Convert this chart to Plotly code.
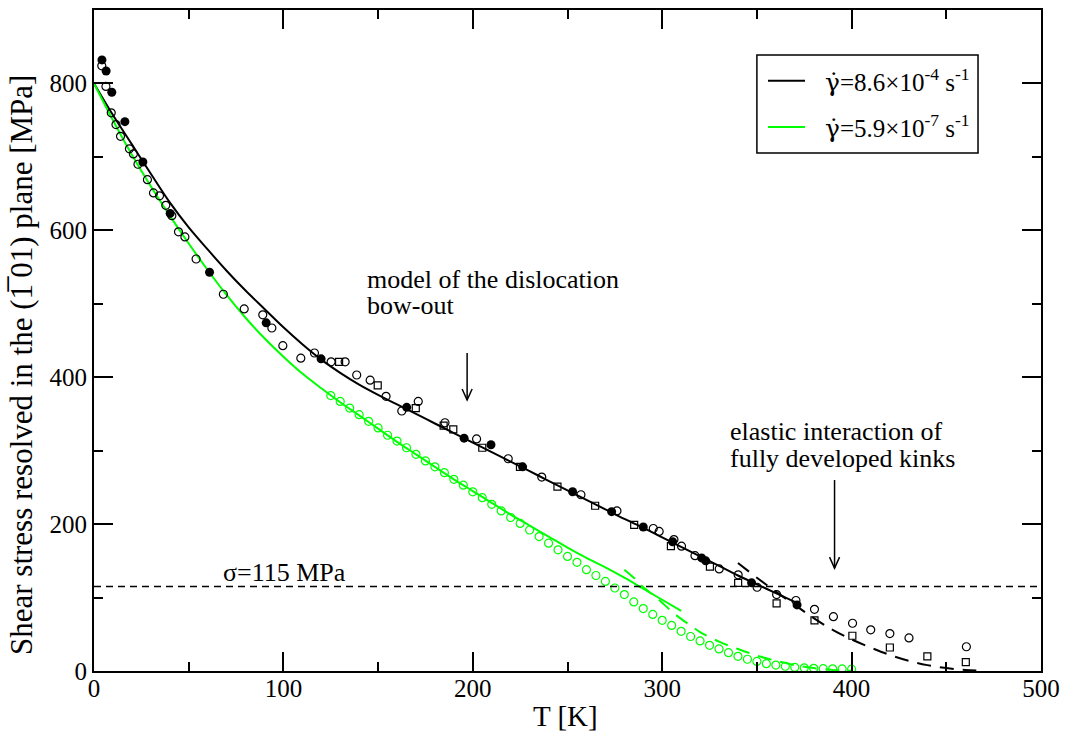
import plotly.graph_objects as go

FONT = "Liberation Serif"

# Model curves: dislocation bow-out (solid) for the two strain rates
T_fast = [0, 10, 20, 30, 40, 50, 60, 70, 80, 90, 100, 110, 120, 130, 140, 150, 160, 170, 180,
          190, 200, 210, 220, 230, 240, 250, 260, 270, 280, 290, 300, 310, 320, 330, 340, 350,
          360, 370]
tau_fast = [800, 757, 717, 677, 638, 604, 574, 545, 518, 493, 468, 445, 424, 406, 390, 376, 363,
            350, 337, 324, 311, 298, 285, 272, 259, 246, 233, 220, 207, 195, 182, 169, 156, 143,
            130, 118, 106, 94]

T_slow = [0, 10, 20, 30, 40, 50, 60, 70, 80, 90, 100, 110, 120, 130, 140, 150, 160, 170, 180,
          190, 200, 210, 220, 230, 240, 250, 260, 270, 280, 290, 300, 310]
tau_slow = [800, 750, 703, 660, 620, 582, 546, 512, 481, 453, 428, 405, 385, 366, 348, 330, 312,
            295, 278, 261, 245, 229, 213, 198, 183, 168, 154, 141, 127, 112, 97, 82]

# Elastic interaction of fully developed kinks (dashed)
T_kink_fast = [340, 350, 360, 370, 380, 390, 400, 410, 420, 430, 440, 450, 460, 470]
tau_kink_fast = [147, 127, 108, 90, 72, 56, 43, 32, 22, 14, 8, 4, 1.5, 0.3]

T_kink_slow = [280, 285, 290, 295, 300, 305, 310, 315, 320, 330, 340, 350, 360, 370, 380, 390, 400]
tau_kink_slow = [138, 127, 114, 104, 93, 81, 71, 62, 53, 40, 30, 21, 14, 8, 4, 1.5, 0.3]

# Measurements at the higher strain rate
T_filled = [4.2, 6.4, 9.4, 16.3, 25.8, 40.2, 61.0, 90.9, 119.9, 165.1, 195.4, 209.6, 226.3,
            252.7, 273.3, 290.0, 305.5, 320.8, 323.0, 347.2, 371.2]
tau_filled = [832, 817, 788, 748, 693, 623, 543, 474, 425, 359, 317, 308, 278, 244, 217, 196,
              176, 154, 150, 120, 90]

T_open = [4.1, 6.3, 9.1, 11.6, 14.0, 18.7, 20.8, 23.2, 28.2, 31.4, 34.6, 37.9, 41.1, 44.6, 48.0,
          53.9, 68.3, 79.3, 89.1, 93.9, 99.7, 109.2, 116.4, 125.2, 132.6, 138.7, 145.8, 154.2,
          162.5, 171.2, 185.3, 202.0, 218.7, 236.4, 257.1, 276.1, 295.3, 298.4, 306.2, 310.2,
          317.3, 330.1, 340.1, 350.1, 360.4, 370.6, 380.4, 390.4, 400.5, 410.1, 420.2, 430.3,
          460.6]
tau_open = [824, 796, 760, 744, 728, 711, 704, 690, 669, 651, 647, 634, 620, 598, 591, 561, 513,
            493, 485, 467, 443, 426, 433, 421, 421, 403, 396, 374, 354, 367, 338, 316, 289, 264,
            240, 218, 194, 190, 179, 170, 157, 139, 131, 114, 104, 96, 84, 74, 65, 56, 51, 45, 33]

T_square = [129.4, 149.8, 169.9, 184.6, 189.7, 205.0, 224.9, 244.7, 264.6, 285.2, 304.6, 325.2,
            340.1, 360.4, 380.4, 400.4, 420.2, 440.0, 460.3]
tau_square = [421, 389, 358, 334, 329, 304, 278, 251, 225, 199, 170, 142, 120, 92, 69, 48, 32,
              20, 12]

# Measurements at the lower strain rate
T_green = [125, 130, 135, 140, 145, 150, 155, 160, 165, 170, 175, 180, 185, 190, 195, 200, 205,
           210, 215, 220, 225, 230, 235, 240, 245, 250, 255, 260, 265, 270, 275, 280, 285, 290,
           295, 300, 305, 310, 315, 320, 325, 330, 335, 340, 345, 350, 355, 360, 365, 370, 375,
           380, 385, 390, 395, 400]
tau_green = [375, 367, 358, 349, 340, 331, 321, 313, 304, 295, 286, 278, 270, 261, 253, 244, 236,
             227, 218, 209, 201, 192, 183, 174, 165, 156, 148, 138, 130, 122, 113, 104, 94, 85,
             77, 69, 62, 54, 47, 41, 35, 30, 25, 20, 16, 13, 10, 8, 6.5, 5, 4.3, 3.6, 3.2, 3.0,
             2.8, 2.5]

SIGMA = 115
BLACK = "#000000"
GREEN = "#00ff00"
GAMMA = '<span style="font-family:DejaVu Serif">\u03b3\u0307</span>'
legend_labels = [f"{GAMMA}=8.6\u00d710<sup>-4</sup> s<sup>-1</sup>",
                 f"{GAMMA}=5.9\u00d710<sup>-7</sup> s<sup>-1</sup>"]
legend_colors = [BLACK, GREEN]

fig = go.Figure()

fig.add_trace(go.Scatter(x=T_fast, y=tau_fast, mode="lines", line=dict(color=BLACK, width=2),
                         line_shape="spline", name="fast", showlegend=False))
fig.add_trace(go.Scatter(x=T_slow, y=tau_slow, mode="lines", line=dict(color=GREEN, width=2),
                         line_shape="spline", name="slow", showlegend=False))
fig.add_trace(go.Scatter(x=T_kink_fast, y=tau_kink_fast, mode="lines", showlegend=False,
                         line=dict(color=BLACK, width=2, dash="14px,9px"), line_shape="spline"))
fig.add_trace(go.Scatter(x=T_kink_slow, y=tau_kink_slow, mode="lines", showlegend=False,
                         line=dict(color=GREEN, width=2, dash="14px,9px"), line_shape="spline"))

fig.add_trace(go.Scatter(x=T_green, y=tau_green, mode="markers", showlegend=False,
                         marker=dict(symbol="circle-open", size=8, color=GREEN,
                                     line=dict(width=1.2, color=GREEN))))
fig.add_trace(go.Scatter(x=T_square, y=tau_square, mode="markers", showlegend=False,
                         marker=dict(symbol="square-open", size=7, color=BLACK,
                                     line=dict(width=1.2, color=BLACK))))
fig.add_trace(go.Scatter(x=T_open, y=tau_open, mode="markers", showlegend=False,
                         marker=dict(symbol="circle-open", size=8, color=BLACK,
                                     line=dict(width=1.2, color=BLACK))))
fig.add_trace(go.Scatter(x=T_filled, y=tau_filled, mode="markers", showlegend=False,
                         marker=dict(symbol="circle", size=9, color=BLACK)))

# Reference stress level
fig.add_shape(type="line", xref="x", yref="y", x0=0, x1=500, y0=SIGMA, y1=SIGMA,
              line=dict(color=BLACK, width=1.5, dash="7px,5px"))

# Arrows pointing at the two regimes: (x, tail y, tip y)
arrows = [(197, 433, 369), (391, 260, 140)]
for ax_, y_tail, y_tip in arrows:
    fig.add_shape(type="line", xref="x", yref="y", x0=ax_, x1=ax_, y0=y_tail, y1=y_tip,
                  line=dict(color=BLACK, width=1.5))
    fig.add_shape(type="path", xref="x", yref="y", xsizemode="pixel", ysizemode="pixel",
                  xanchor=ax_, yanchor=y_tip, path="M-5,11 L0,0 L5,11",
                  line=dict(color=BLACK, width=1.5))

text_font = dict(family=FONT, size=26, color=BLACK)
labels = [
    (143, 533, "model of the dislocation"),
    (143, 498, "bow-out"),
    (335, 326, "elastic interaction of"),
    (335, 290, "fully developed kinks"),
    (67, 134, "\u03c3=115 MPa"),
]
for lx, ly, txt in labels:
    fig.add_annotation(x=lx, y=ly, xref="x", yref="y", text=txt, showarrow=False,
                       xanchor="left", yanchor="middle", font=text_font)

# Legend box drawn in paper coordinates
fig.add_shape(type="rect", xref="paper", yref="paper", x0=0.700, x1=0.9335, y0=0.7837, y1=0.932,
              line=dict(color=BLACK, width=1.5), fillcolor="white", layer="above")
legend_rows_y = [0.893, 0.823]
for row_y, col, lab in zip(legend_rows_y, legend_colors, legend_labels):
    fig.add_shape(type="line", xref="paper", yref="paper", x0=0.7117, x1=0.7508, y0=row_y,
                  y1=row_y, line=dict(color=col, width=2), layer="above")
    fig.add_annotation(x=0.7698, y=row_y, xref="paper", yref="paper", text=lab, showarrow=False,
                       xanchor="left", yanchor="middle",
                       font=dict(family=FONT, size=25, color=BLACK))

# Axis titles
fig.add_annotation(x=-0.076, y=0.463, xref="paper", yref="paper", textangle=-90,
                   text="Shear stress resolved in the (1\u0305\u200901) plane [MPa]",
                   showarrow=False, xanchor="center", yanchor="middle",
                   font=dict(family=FONT, size=31, color=BLACK))
fig.add_annotation(x=0.498, y=-0.068, xref="paper", yref="paper", text="T [K]",
                   showarrow=False, xanchor="center", yanchor="middle",
                   font=dict(family=FONT, size=29, color=BLACK))

axis_common = dict(showgrid=False, zeroline=False, showline=True, linecolor=BLACK, linewidth=2,
                   mirror="ticks", ticks="inside", ticklen=19, tickwidth=2, tickcolor=BLACK,
                   automargin=False, tickfont=dict(family=FONT, size=25, color=BLACK))

fig.update_xaxes(range=[0, 500], dtick=100, tick0=0, ticklabelstandoff=-6,
                 minor=dict(dtick=50, ticklen=9, tickwidth=2, tickcolor=BLACK, ticks="inside"),
                 **axis_common)
fig.update_yaxes(range=[0, 900], tickvals=[0, 200, 400, 600, 800],
                 minor=dict(dtick=100, ticklen=9, tickwidth=2, tickcolor=BLACK, ticks="inside"),
                 **axis_common)

fig.update_layout(
    width=1068, height=731,
    margin=dict(l=94, r=27, t=10, b=60),
    paper_bgcolor="white", plot_bgcolor="white",
    showlegend=False,
)

fig.write_html("out.html")
